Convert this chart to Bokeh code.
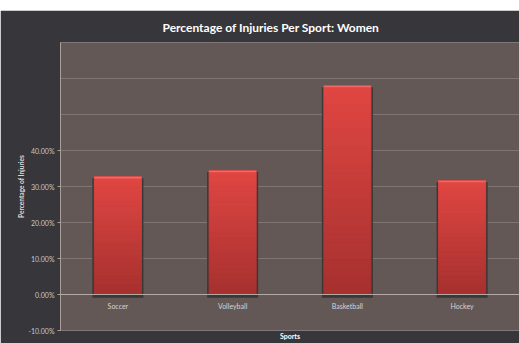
import numpy as np
from bokeh.plotting import figure
from bokeh.models import FixedTicker, CustomJSTickFormatter, Span, ColumnDataSource, GlobalInlineStyleSheet
from bokeh.core.properties import value
from bokeh.embed import file_html
from bokeh.resources import INLINE

# ---- data ----
sports = ["Soccer", "Volleyball", "Basketball", "Hockey"]
injury_pct = [32.7, 34.4, 58.0, 31.6]
y_ticks = [-10, 0, 10, 20, 30, 40, 50, 60, 70]
y_label_ticks = [-10, 0, 10, 20, 30, 40]
title_text = "Percentage of Injuries Per Sport: Women"
y_label = "Percentage of Injuries"
x_label = "Sports"

DARK = "#37363b"
PLOT_BG = "#635856"
GRID = "#7f7674"
AXIS = "#a9a09c"
FONT = "Lato"

p = figure(x_range=sports, y_range=(-10, 70), width=519, height=333,
           output_backend="svg", toolbar_location=None,
           styles={"position": "absolute", "left": "0px", "top": "10px"},
           min_border_left=60, min_border_right=0, min_border_top=30, min_border_bottom=13)
p.stylesheets = [GlobalInlineStyleSheet(css="html, body { overflow: hidden !important; margin: 0; }")]
p.border_fill_color = DARK
p.background_fill_color = PLOT_BG
p.outline_line_color = None

p.title.text = title_text
p.title.align = "left"
p.title.offset = 102
p.title.standoff = 15
p.title.text_font = FONT
p.title.text_font_size = "12px"
p.title.text_font_style = "bold"
p.title.text_color = "#ffffff"

# grid
p.xgrid.visible = False
p.ygrid.ticker = FixedTicker(ticks=y_ticks)
p.ygrid.grid_line_color = GRID
p.ygrid.grid_line_width = 1

# y axis
yax = p.yaxis[0]
yax.ticker = FixedTicker(ticks=y_label_ticks)
yax.formatter = CustomJSTickFormatter(code="return tick.toFixed(2) + '%'")
yax.axis_line_color = AXIS
yax.major_tick_line_color = AXIS
yax.major_tick_out = 3
yax.major_tick_in = 0
yax.minor_tick_line_color = None
yax.major_label_text_font = FONT
yax.major_label_text_font_size = "7px"
yax.major_label_text_color = "#c9c6c6"
yax.major_label_standoff = 3
yax.axis_label = y_label
yax.axis_label_text_font = FONT
yax.axis_label_text_font_size = "6.5px"
yax.axis_label_text_font_style = "bold"
yax.axis_label_text_color = "#dcdcdc"
yax.axis_label_standoff = 0

# x axis (labels drawn at the zero line instead)
xax = p.xaxis[0]
xax.ticker = FixedTicker(ticks=[])
xax.axis_line_color = None
xax.major_tick_line_color = None
xax.major_tick_out = 0
xax.major_label_standoff = 0
xax.axis_label = x_label
xax.axis_label_text_font = FONT
xax.axis_label_text_font_size = "7px"
xax.axis_label_text_font_style = "bold"
xax.axis_label_text_color = "#ffffff"
xax.axis_label_standoff = 1

# bar shadows
vals = np.array(injury_pct)
p.vbar(x=sports, top=vals - 0.4, bottom=-0.9, width=0.445, fill_color="#3a3737", line_color=None)

# gradient bars
N = 24
c_top = np.array([0xE1, 0x47, 0x43])
c_bot = np.array([0xA6, 0x31, 0x2F])
xs, bots, tops, cols = [], [], [], []
for s, v in zip(sports, vals):
    for k in range(N):
        t = (k + 0.5) / N
        c = (c_bot + (c_top - c_bot) * t).astype(int)
        xs.append(s)
        bots.append(v * k / N)
        tops.append(v * (k + 1) / N)
        cols.append("#%02x%02x%02x" % tuple(c))
src = ColumnDataSource(dict(x=xs, bottom=bots, top=tops, color=cols))
p.vbar(x="x", top="top", bottom="bottom", width=0.41, fill_color="color",
       line_color="color", line_width=1, source=src)
# top highlight
p.vbar(x=sports, top=vals, bottom=vals - 0.45, width=0.41, fill_color="#ef6a63", line_color=None)

# zero line
p.add_layout(Span(location=0, dimension="width", line_color="#b3aaa6", line_width=1))

# category labels under zero line
p.text(x=sports, y=[0] * len(sports), text=sports, text_align="center", text_baseline="top",
       y_offset=7, text_font=value(FONT), text_font_size="7px", text_color="#d6d3d3")

open("out.html", "w").write(file_html(p, INLINE))
